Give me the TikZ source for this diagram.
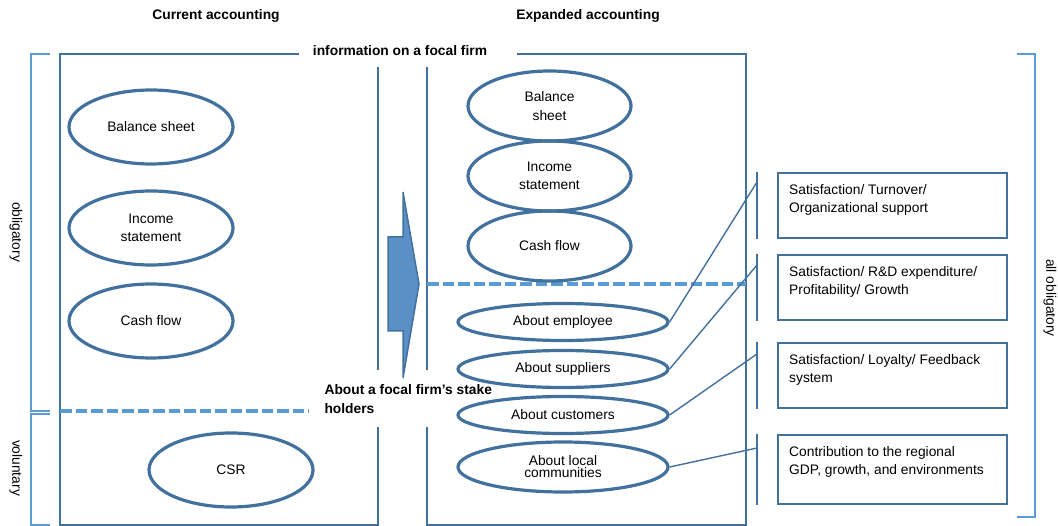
\documentclass[tikz,border=0pt]{standalone}
\usepackage{fontspec}
\setmainfont{Liberation Sans}
\usetikzlibrary{math,shapes.geometric}

\definecolor{frame}{RGB}{65,113,156}
\definecolor{brace}{RGB}{91,155,213}
\definecolor{arrowfill}{RGB}{91,144,199}

\tikzset{
  report/.style={ellipse, draw=frame, line width=3.2pt, minimum width=164pt, minimum height=74pt, inner sep=0pt, align=center},
  stake/.style={ellipse, draw=frame, line width=3.2pt, minimum width=210pt, minimum height=37pt, inner sep=0pt, align=center},
  infobox/.style={draw=frame, line width=1.8pt, minimum width=229pt, anchor=north west},
  infotext/.style={anchor=north west, inner sep=0pt, align=left},
  title/.style={font=\fontsize{13.8}{19}\selectfont\bfseries},
  boxline/.style={draw=frame, line width=2.8pt},
  bracket/.style={draw=brace, line width=1.8pt},
  divide/.style={draw=brace, line width=3.2pt, dash pattern=on 11.5pt off 4pt},
  tick/.style={draw=frame, line width=1.8pt},
  link/.style={draw=frame, line width=1.4pt}
}

\begin{document}
\begin{tikzpicture}[x=1pt, y=-1pt, font=\fontsize{13.8}{18.5}\selectfont]

\tikzmath{
\yT = 54;
\yB = 525;
\xL = 60;
\xR = 746;
\xA = 378;
\xB = 427;
}

\useasboundingbox (0,0) rectangle (1058,526);

\fill (216,16) circle (0cm) node[title] (curr) {Current accounting};
\fill (588,16) circle (0cm) node[title] (expd) {Expanded accounting};

% the two frames
\draw[boxline] (299,\yT) -- (\xL,\yT) -- (\xL,\yB) -- (\xA,\yB) -- (\xA,427);
\draw[boxline] (\xA,67) -- (\xA,370);
\draw[boxline] (517,\yT) -- (\xR,\yT) -- (\xR,\yB) -- (\xB,\yB) -- (\xB,427);
\draw[boxline] (\xB,67) -- (\xB,370);

\node[title] (focal) at (400,51) {information on a focal firm};
\node[title, anchor=west, align=left] (holders) at (321,399) {About a focal firm’s stake\\holders};

\draw[divide] (\xL,411) -- (309,411);
\draw[divide] (\xB,284) -- (\xR,284);

% brackets
\draw[bracket] (50,\yT) -- (31,\yT) -- (31,411) -- (50,411);
\draw[bracket] (50,414) -- (31,414) -- (31,\yB) -- (50,\yB);
\draw[bracket] (1017,\yT) -- (1035,\yT) -- (1035,517) -- (1017,517);

\node[rotate=-90] (oblig) at (16,232) {obligatory};
\node[rotate=-90] (volun) at (16,468) {voluntary};
\node[rotate=-90] (allob) at (1050,298) {all obligatory};

% arrow
\filldraw[fill=arrowfill, draw=frame, line width=1.5pt] (388,237) -- (403,237) -- (403,192) -- (419,284) -- (403,378) -- (403,331) -- (388,331) -- cycle;

% current accounting
\node[report] (cbal) at (151,127) {Balance sheet};
\node[report] (cinc) at (151,228) {Income\\statement};
\node[report] (ccash) at (151,321) {Cash flow};
\node[report] (ccsr) at (231,470) {CSR};

% expanded accounting
\node[report, minimum width=163pt, minimum height=70pt] (ebal) at (549.5,106) {Balance\\sheet};
\node[report, minimum width=163pt, minimum height=70pt] (einc) at (549.5,176) {Income\\statement};
\node[report, minimum width=163pt, minimum height=70pt] (ecash) at (549.5,246) {Cash flow};

\node[stake] (emp) at (563,322) {About employee};
\node[stake] (sup) at (563,369) {About suppliers};
\node[stake] (cus) at (563,415) {About customers};
\node[stake, minimum height=50pt, font=\fontsize{13.8}{12}\selectfont] (com) at (563,467) {About local\\communities};

% indicators
\node[infobox, minimum height=65pt] (bemp) at (777,172) {};
\node[infobox, minimum height=65pt] (bsup) at (777,254) {};
\node[infobox, minimum height=65pt] (bcus) at (777,342) {};
\node[infobox, minimum height=69pt] (bcom) at (777,434) {};

\node[infotext] (temp) at ([xshift=12pt,yshift=-12pt]bemp.north west) {Satisfaction/ Turnover/\\Organizational support};
\node[infotext] (tsup) at ([xshift=12pt,yshift=-12pt]bsup.north west) {Satisfaction/ R\&D expenditure/\\Profitability/ Growth};
\node[infotext] (tcus) at ([xshift=12pt,yshift=-12pt]bcus.north west) {Satisfaction/ Loyalty/ Feedback\\system};
\node[infotext] (tcom) at ([xshift=12pt,yshift=-12pt]bcom.north west) {Contribution to the regional\\GDP, growth, and environments};

\foreach \b in {bemp,bsup,bcus,bcom}
    \draw[tick] ([xshift=-20pt]\b.north west) -- ([xshift=-20pt]\b.south west);

\coordinate (hemp) at (757,182);
\coordinate (hsup) at (757,265);
\coordinate (hcus) at (757,354);
\coordinate (hcom) at (757,448);

\foreach \s in {emp,sup,cus,com}
    \draw[link] (\s.east) -- (h\s);

\end{tikzpicture}
\end{document}
